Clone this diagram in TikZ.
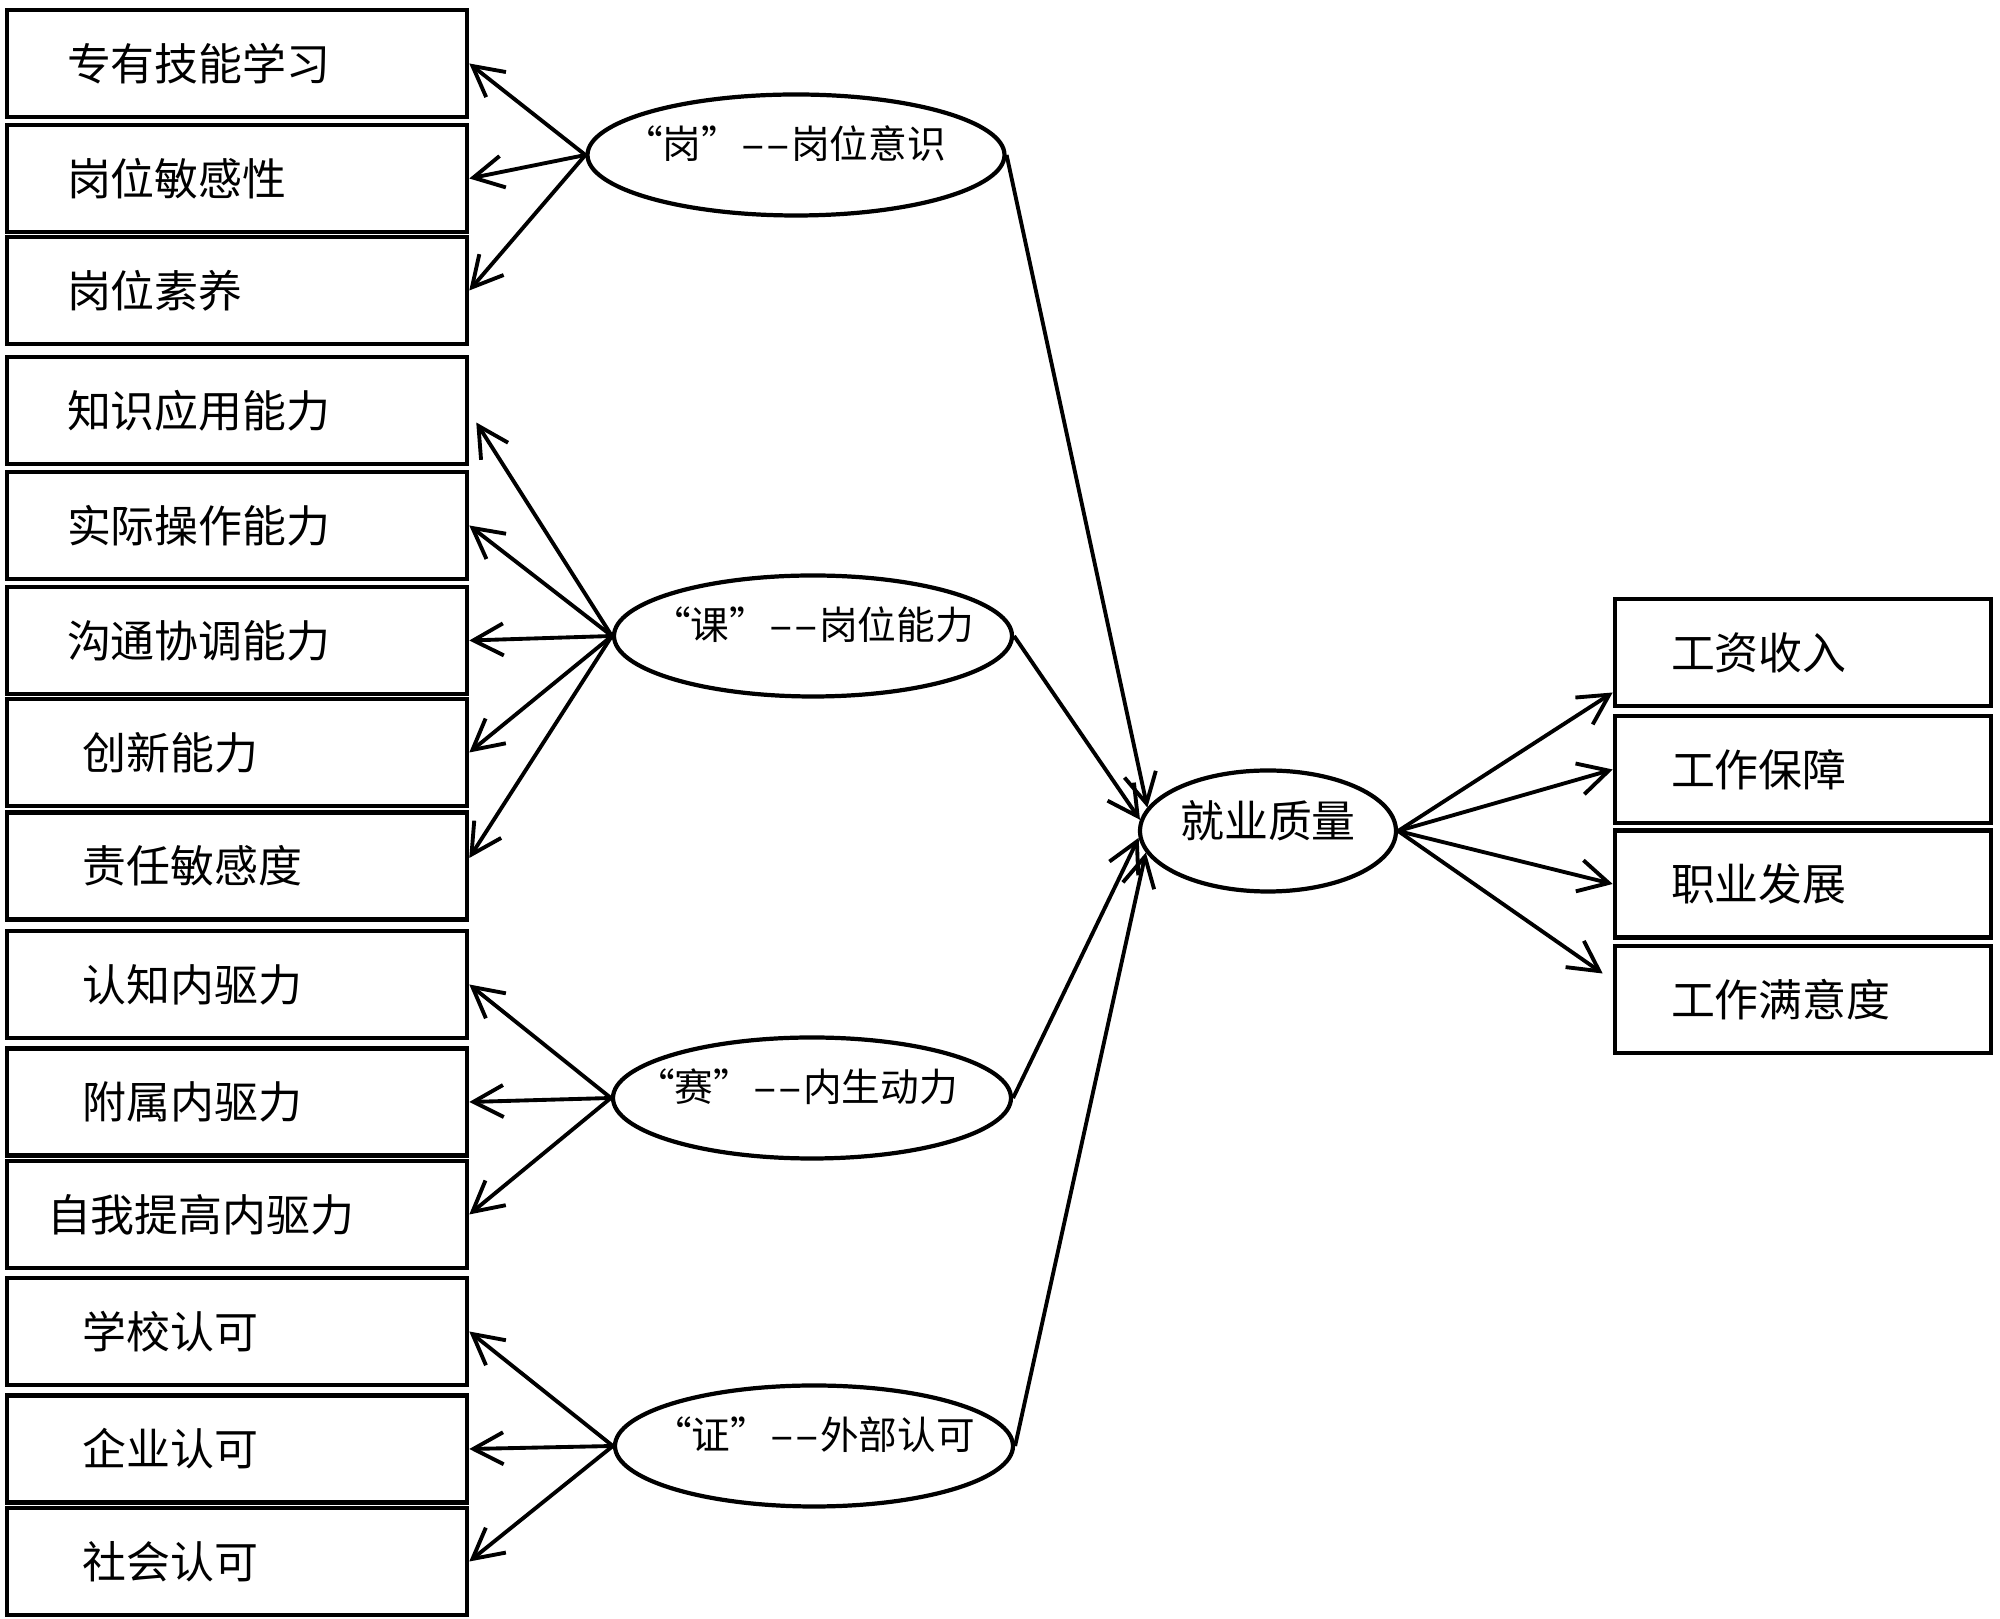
\documentclass[tikz,border=0pt]{standalone}
\usepackage{fontspec}
\setmainfont{Noto Sans CJK SC}
\usetikzlibrary{arrows.meta, shapes.geometric}

% quoted key word followed by a double dash
\newcommand{\quokey}[1]{“#1”\scalebox{1.9}[1]{-}\scalebox{1.9}[1]{-}}

\begin{document}
\begin{tikzpicture}[x=0.1mm, y=-0.1mm, >={Straight Barb[length=3mm, width=3.2mm]},
  item/.style={draw, line width=1.3pt, minimum height=10.7mm, inner ysep=0pt,
               align=left, font=\fontsize{12.5}{15}\selectfont},
  lbox/.style={item, minimum width=46mm, text width=34mm, inner xsep=6mm},
  rbox/.style={item, minimum width=37.6mm, text width=26.4mm, inner xsep=5.6mm},
  fac/.style={draw, ellipse, line width=1.2pt, inner xsep=-4mm, inner ysep=0pt,
              minimum height=12.1mm, text height=3.4mm, text depth=2.7mm,
              font=\fontsize{11}{13}\selectfont},
  arr/.style={->, line width=1.1pt}]

\useasboundingbox (0,0) rectangle (2000,1619);

% --- indicators on the left
\node[lbox] (a1) at (237,63.5) {专有技能学习};
\node[lbox] (a2) at (237,178.5) {岗位敏感性};
\node[lbox] (a3) at (237,290.5) {岗位素养};
\node[lbox] (b1) at (237,410.5) {知识应用能力};
\node[lbox] (b2) at (237,525.5) {实际操作能力};
\node[lbox] (b3) at (237,640.5) {沟通协调能力};
\node[lbox] (b4) at (237,752.5) {\hspace*{1.6mm}创新能力};
\node[lbox] (b5) at (237,866) {\hspace*{1.6mm}责任敏感度};
\node[lbox] (c1) at (237,984.5) {\hspace*{1.6mm}认知内驱力};
\node[lbox] (c2) at (237,1102) {\hspace*{1.6mm}附属内驱力};
\node[lbox] (c3) at (237,1214.5) {\hspace*{-2mm}自我提高内驱力};
\node[lbox] (d1) at (237,1331.5) {\hspace*{1.6mm}学校认可};
\node[lbox] (d2) at (237,1449) {\hspace*{1.6mm}企业认可};
\node[lbox] (d3) at (237,1561.5) {\hspace*{1.6mm}社会认可};

% --- latent factors
\node[fac, minimum width=41.7mm] (g) at (796,155) {\quokey{岗}岗位意识\kern2.2mm};
\node[fac, minimum width=39.8mm] (k) at (813,636) {\quokey{课}岗位能力};
\node[fac, minimum width=39.8mm] (s) at (812,1098) {\quokey{赛}内生动力\kern3mm};
\node[fac, minimum width=39.8mm] (z) at (814,1446) {\quokey{证}外部认可};
\node[fac, minimum width=25.6mm, text height=3.9mm, text depth=2.6mm,
      font=\fontsize{12.5}{15}\selectfont] (q) at (1268,831) {就业质量};

% --- outcomes on the right
\node[rbox] (r1) at (1803,652.5) {工资收入};
\node[rbox] (r2) at (1803,769.5) {工作保障};
\node[rbox] (r3) at (1803,884) {职业发展};
\node[rbox] (r4) at (1803,999.5) {工作满意度};

\foreach \t in {a1,a2,a3} \draw[arr] (g.west) -- (\t.east);
\draw[arr] (k.west) -- ([xshift=0.7mm, yshift=-1.2mm]b1.east);
\foreach \t in {b2,b3,b4} \draw[arr] (k.west) -- (\t.east);
\draw[arr] (k.west) -- ([yshift=0.8mm]b5.east);
\foreach \t in {c1,c2,c3} \draw[arr] (s.west) -- (\t.east);
\foreach \t in {d1,d2,d3} \draw[arr] (z.west) -- (\t.east);

\draw[arr] (g.east) -- (q.169);
\draw[arr] (k.east) -- (q.175);
\draw[arr] (s.east) -- (q.183);
\draw[arr] (z.east) -- (q.190);

\draw[arr] (q.east) -- ([yshift=-4mm]r1.west);
\draw[arr] (q.east) -- (r2.west);
\draw[arr] (q.east) -- (r3.west);
\draw[arr] (q.east) -- ([xshift=-1mm, yshift=2.6mm]r4.west);
\end{tikzpicture}
\end{document}
